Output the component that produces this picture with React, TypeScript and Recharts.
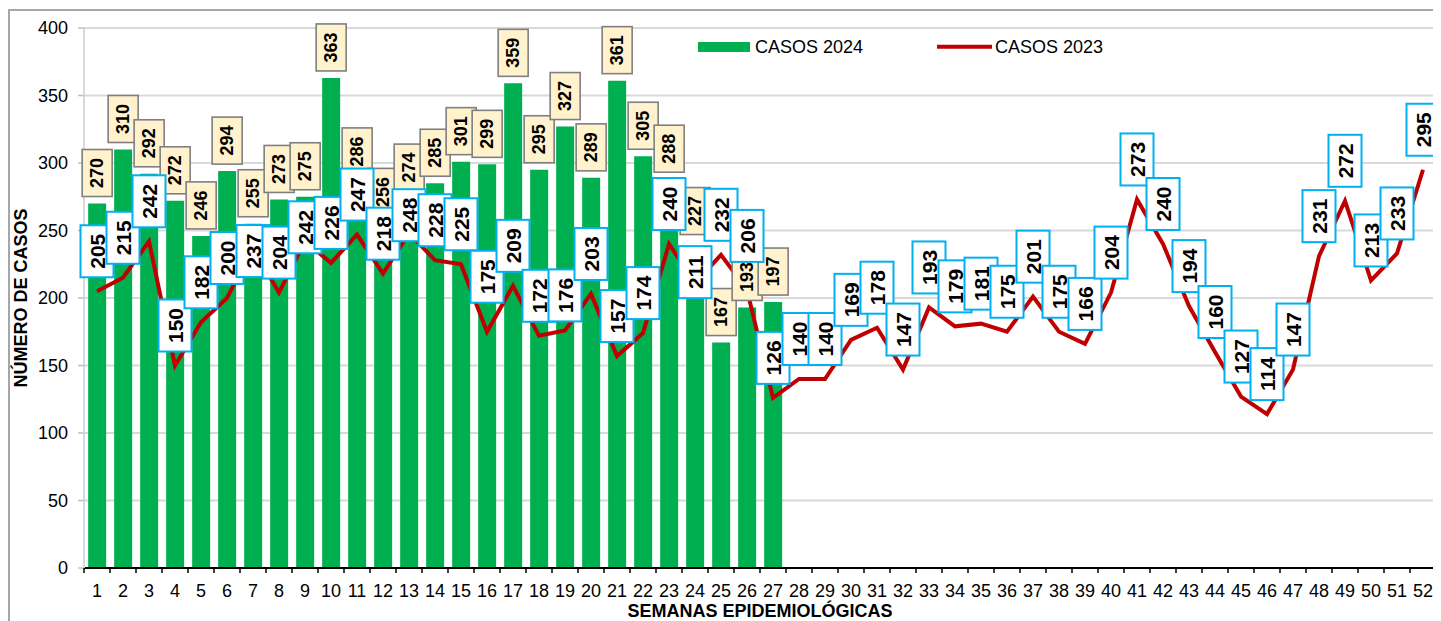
import React from 'react';
import {
  ComposedChart,
  Bar,
  Line,
  XAxis,
  YAxis,
  CartesianGrid,
  LabelList,
  Legend,
} from 'recharts';

const WEEKS = [
  '1', '2', '3', '4', '5', '6', '7', '8', '9', '10', '11', '12', '13',
  '14', '15', '16', '17', '18', '19', '20', '21', '22', '23', '24', '25', '26',
  '27', '28', '29', '30', '31', '32', '33', '34', '35', '36', '37', '38', '39',
  '40', '41', '42', '43', '44', '45', '46', '47', '48', '49', '50', '51', '52',
];

const CASOS_2024 = [
  270, 310, 292, 272, 246, 294, 255, 273, 275, 363, 286, 256, 274, 285, 301,
  299, 359, 295, 327, 289, 361, 305, 288, 227, 167, 193, 197,
];

const CASOS_2023 = [
  205, 215, 242, 150, 182, 200, 237, 204, 242, 226, 247, 218, 248, 228, 225,
  175, 209, 172, 176, 203, 157, 174, 240, 211, 232, 206, 126, 140, 140, 169,
  178, 147, 193, 179, 181, 175, 201, 175, 166, 204, 273, 240, 194, 160, 127,
  114, 147, 231, 272, 213, 233, 295,
];

const Y_TICKS = [0, 50, 100, 150, 200, 250, 300, 350, 400];

const SERIES_2024 = 'CASOS 2024';
const SERIES_2023 = 'CASOS 2023';
const X_TITLE = 'SEMANAS EPIDEMIOLÓGICAS';
const Y_TITLE = 'NÚMERO DE CASOS';

// Manual nudges (px, + = down) of a few data labels that were moved by hand in the original
const LINE_LABEL_NUDGE: Record<string, number> = { '7': 43, '9': 26, '13': 22, '16': -15, '19': 5, '24': 29, '26': -14 };
const BAR_LABEL_NUDGE: Record<string, number> = { '24': -20 };

const data = WEEKS.map((w, i) => ({
  week: w,
  c2024: i < CASOS_2024.length ? CASOS_2024[i] : null,
  c2023: CASOS_2023[i],
}));

const FONT = '"Liberation Sans", Arial, Helvetica, sans-serif';
const GREEN = '#00B050';
const RED = '#C00000';

const BarLabel = (p: any) => {
  const { x, y, width, value, index } = p;
  if (value == null || x == null) return null;
  const cx = Number(x) + Number(width) / 2;
  const w = 30;
  const h = 47;
  const nudge = BAR_LABEL_NUDGE[WEEKS[index]] ?? 0;
  const bottom = Number(y) - 7 + nudge;
  return (
    <g>
      <rect x={cx - w / 2} y={bottom - h} width={w} height={h} fill="#FFF2CC" stroke="#7F7F7F" strokeWidth={1.6} />
      <text
        transform={`translate(${cx},${bottom - h / 2}) rotate(-90)`}
        textAnchor="middle"
        dominantBaseline="central"
        fontSize={18}
        fontWeight="bold"
        fontFamily={FONT}
        fill="#000"
      >
        {value}
      </text>
    </g>
  );
};

const LineLabel = (p: any) => {
  const x = p.x ?? p.viewBox?.x;
  const y = p.y ?? p.viewBox?.y;
  const { value, index } = p;
  if (value == null || x == null) return null;
  const w = 33;
  const h = 52;
  const nudge = LINE_LABEL_NUDGE[WEEKS[index]] ?? 0;
  const bottom = Number(y) - 14 + nudge;
  return (
    <g>
      <rect x={x - w / 2} y={bottom - h} width={w} height={h} fill="#FFFFFF" stroke="#00B0F0" strokeWidth={2} />
      <text
        transform={`translate(${x},${bottom - h / 2}) rotate(-90)`}
        textAnchor="middle"
        dominantBaseline="central"
        fontSize={21}
        fontWeight="bold"
        fontFamily={FONT}
        fill="#000"
      >
        {value}
      </text>
    </g>
  );
};

const XTick = (p: any) => {
  const { x, y, payload } = p;
  const off = payload?.offset ?? 13;
  const isLast = payload?.value === WEEKS[WEEKS.length - 1];
  return (
    <g>
      <line x1={x - off} x2={x - off} y1={y} y2={y + 5} stroke="#000" strokeWidth={1.5} />
      {isLast && <line x1={x + off} x2={x + off} y1={y} y2={y + 5} stroke="#000" strokeWidth={1.5} />}
      <text x={x} y={y + 29} textAnchor="middle" fontSize={18} fontFamily={FONT} fill="#000">
        {payload.value}
      </text>
    </g>
  );
};

const XTitle = (p: any) => {
  const vb = p.viewBox || {};
  return (
    <text
      x={vb.x + vb.width / 2}
      y={vb.y + 49}
      textAnchor="middle"
      fontSize={18}
      fontWeight="bold"
      fontFamily={FONT}
      fill="#000"
    >
      {X_TITLE}
    </text>
  );
};

const YTitle = (p: any) => {
  const vb = p.viewBox || {};
  const cx = vb.x + 13;
  const cy = vb.y + vb.height / 2;
  return (
    <text
      transform={`translate(${cx},${cy}) rotate(-90)`}
      textAnchor="middle"
      dominantBaseline="central"
      fontSize={18}
      fontWeight="bold"
      fontFamily={FONT}
      fill="#000"
    >
      {Y_TITLE}
    </text>
  );
};

const LEGEND_ORDER = [SERIES_2024, SERIES_2023];

const LegendContent = (p: any) => {
  const payload = [...(p.payload || [])].sort(
    (a: any, b: any) => LEGEND_ORDER.indexOf(a.value) - LEGEND_ORDER.indexOf(b.value),
  );
  const itemX = [0, 239];
  return (
    <svg width={600} height={30} style={{ display: 'block', overflow: 'visible' }}>
      {payload.map((item: any, i: number) => {
        const bx = itemX[i] ?? i * 239;
        const isLine = item.value === SERIES_2023;
        return (
          <g key={i}>
            {isLine ? (
              <line x1={bx} x2={bx + 55} y1={10.7} y2={10.7} stroke={item.color} strokeWidth={4} />
            ) : (
              <rect x={bx} y={6} width={52} height={10} fill={item.color} />
            )}
            <text x={bx + (isLine ? 58 : 57)} y={17} fontSize={18} fontFamily={FONT} fill="#000">
              {item.value}
            </text>
          </g>
        );
      })}
    </svg>
  );
};

export default function App() {
  return (
    <div style={{ position: 'relative', width: 1433, height: 613, fontFamily: FONT }}>
      <div
        style={{
          position: 'absolute',
          left: 0,
          top: 1,
          width: 1429,
          height: 640,
          border: '2px solid #A6A6A6',
          borderBottom: 'none',
          boxSizing: 'border-box',
          pointerEvents: 'none',
        }}
      />
      <ComposedChart
        width={1433}
        height={613}
        data={data}
        margin={{ top: 20, right: 5, bottom: 0, left: 0 }}
        barCategoryGap="16%"
        style={{ position: 'absolute', left: 0, top: 0 }}
      >
        <CartesianGrid vertical={false} stroke="#D9D9D9" strokeWidth={2} />
        <XAxis
          dataKey="week"
          interval={0}
          tickLine={false}
          tickSize={0}
          tickMargin={0}
          height={53}
          axisLine={{ stroke: '#000', strokeWidth: 2 }}
          tick={<XTick />}
          label={{ content: <XTitle /> }}
        />
        <YAxis
          domain={[0, 400]}
          ticks={Y_TICKS}
          interval={0}
          width={76}
          tickSize={6}
          tickMargin={10}
          axisLine={{ stroke: '#D9D9D9', strokeWidth: 2 }}
          tickLine={{ stroke: '#BFBFBF', strokeWidth: 1.5 }}
          tick={{ fontSize: 18, fill: '#000', fontFamily: FONT }}
          label={{ content: <YTitle /> }}
        />
        <Legend
          verticalAlign="middle"
          align="center"
          layout="horizontal"
          wrapperStyle={{ position: 'absolute', left: 690, top: 28, width: 600, height: 30 }}
          content={<LegendContent />}
        />
        <Bar dataKey="c2024" name={SERIES_2024} fill={GREEN} isAnimationActive={false}>
          <LabelList dataKey="c2024" content={<BarLabel />} />
        </Bar>
        <Line
          type="linear"
          dataKey="c2023"
          name={SERIES_2023}
          stroke={RED}
          strokeWidth={4}
          dot={false}
          activeDot={false}
          isAnimationActive={false}
        >
          <LabelList dataKey="c2023" content={<LineLabel />} />
        </Line>
      </ComposedChart>
    </div>
  );
}
